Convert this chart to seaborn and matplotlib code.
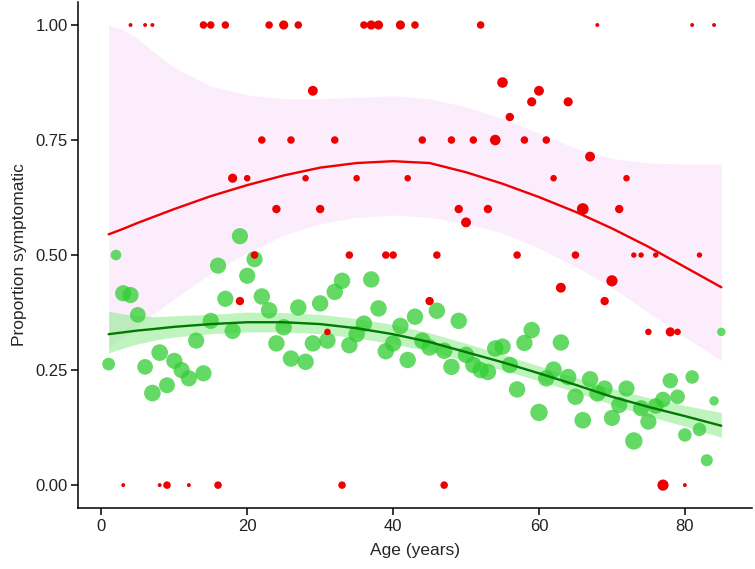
import numpy as np
import pandas as pd
import matplotlib
matplotlib.use("Agg")
import matplotlib.pyplot as plt
import seaborn as sns

# green: proportion symptomatic per year of age (all tested), n = people in that age group
green_age = list(range(1, 86))
green_prop = [0.263, 0.500, 0.417, 0.413, 0.370, 0.257, 0.200, 0.288, 0.217, 0.270,
              0.250, 0.232, 0.314, 0.243, 0.357, 0.477, 0.405, 0.335, 0.541, 0.455,
              0.491, 0.410, 0.380, 0.308, 0.343, 0.275, 0.386, 0.268, 0.308, 0.395,
              0.314, 0.420, 0.444, 0.304, 0.328, 0.351, 0.447, 0.384, 0.291, 0.308,
              0.346, 0.272, 0.366, 0.314, 0.299, 0.379, 0.292, 0.257, 0.357, 0.283,
              0.261, 0.250, 0.246, 0.297, 0.301, 0.261, 0.208, 0.309, 0.337, 0.158,
              0.232, 0.251, 0.310, 0.235, 0.192, 0.141, 0.230, 0.199, 0.210, 0.146,
              0.174, 0.210, 0.096, 0.167, 0.138, 0.172, 0.186, 0.227, 0.192, 0.109,
              0.235, 0.121, 0.054, 0.183, 0.333]
green_n = [40, 28, 64, 64, 60, 60, 68, 68, 62, 64,
           64, 64, 64, 64, 64, 64, 64, 64, 64, 64,
           64, 66, 66, 66, 66, 66, 66, 66, 66, 66,
           66, 66, 66, 66, 66, 66, 66, 66, 66, 66,
           66, 66, 66, 66, 66, 66, 66, 66, 66, 66,
           66, 66, 66, 66, 66, 66, 66, 66, 66, 74,
           66, 66, 66, 66, 66, 68, 66, 64, 64, 64,
           64, 64, 74, 64, 64, 60, 60, 58, 53, 45,
           45, 45, 36, 22, 18]

# red: proportion symptomatic among a second group, n = group size
red_age = [4, 6, 7, 14, 15, 17, 23, 25, 27, 36, 37, 38, 41, 43, 52, 68, 81, 84,
           29, 55, 60, 59, 64, 56,
           22, 26, 32, 44, 48, 51, 54, 58, 61, 67,
           18, 20, 28, 35, 42, 62, 72,
           24, 30, 49, 53, 66, 71, 50,
           21, 34, 39, 40, 46, 57, 65, 73, 74, 76, 82,
           63, 70, 19, 45, 69,
           31, 75, 78, 79,
           3, 8, 9, 12, 16, 33, 47, 77, 80]
red_prop = [1.0] * 18 + \
           [0.857, 0.875, 0.857, 0.833, 0.833, 0.800] + \
           [0.75] * 9 + [0.714] + \
           [0.667] * 7 + \
           [0.6] * 6 + [0.571] + \
           [0.5] * 11 + \
           [0.429, 0.444, 0.4, 0.4, 0.4] + \
           [0.333] * 4 + \
           [0.0] * 9
red_n = [1, 1, 1, 4, 4, 4, 4, 6, 4, 4, 6, 6, 6, 4, 4, 1, 1, 1,
         7, 8, 7, 6, 6, 5,
         4, 4, 4, 4, 4, 4, 8, 4, 4, 7,
         6, 3, 3, 3, 3, 3, 3,
         5, 5, 5, 5, 10, 5, 7,
         4, 4, 4, 4, 4, 4, 4, 2, 2, 2, 2,
         7, 9, 5, 5, 5,
         3, 3, 6, 3,
         1, 1, 4, 1, 4, 4, 4, 9, 1]

# smoothed fits with confidence bands
fit_age = [1, 3, 5, 7, 10, 15, 20, 25, 30, 35, 40, 45, 50, 55, 60, 65, 70, 75, 80, 85]
red_fit = [0.545, 0.557, 0.570, 0.582, 0.600, 0.628, 0.652, 0.673, 0.690, 0.700,
           0.704, 0.700, 0.680, 0.655, 0.626, 0.594, 0.558, 0.518, 0.474, 0.430]
red_hi = [1.000, 0.990, 0.970, 0.944, 0.908, 0.867, 0.848, 0.840, 0.840, 0.843,
          0.846, 0.840, 0.822, 0.797, 0.765, 0.732, 0.710, 0.700, 0.698, 0.698]
red_lo = [0.300, 0.320, 0.345, 0.370, 0.405, 0.460, 0.505, 0.543, 0.568, 0.582,
          0.587, 0.582, 0.568, 0.548, 0.515, 0.475, 0.430, 0.375, 0.322, 0.270]
green_fit = [0.328, 0.332, 0.336, 0.339, 0.344, 0.350, 0.354, 0.354, 0.350, 0.341,
             0.328, 0.311, 0.289, 0.267, 0.243, 0.218, 0.192, 0.170, 0.150, 0.129]
green_hi = [0.378, 0.372, 0.369, 0.366, 0.368, 0.371, 0.376, 0.375, 0.371, 0.362,
            0.349, 0.331, 0.308, 0.284, 0.259, 0.234, 0.210, 0.190, 0.173, 0.158]
green_lo = [0.287, 0.298, 0.307, 0.314, 0.322, 0.329, 0.333, 0.333, 0.329, 0.320,
            0.307, 0.291, 0.270, 0.250, 0.227, 0.202, 0.175, 0.150, 0.128, 0.104]

green_df = pd.DataFrame({"age": green_age, "prop": green_prop, "n": green_n})
red_df = pd.DataFrame({"age": red_age, "prop": red_prop, "n": red_n})
fit_df = pd.DataFrame({"age": fit_age, "red": red_fit, "red_lo": red_lo, "red_hi": red_hi,
                       "green": green_fit, "green_lo": green_lo, "green_hi": green_hi})

sns.set_style("ticks")
plt.rcParams["font.family"] = ["Liberation Sans", "DejaVu Sans"]

fig = plt.figure(figsize=(7.55, 5.69), dpi=100)
ax = fig.add_axes([0.1033, 0.107, 0.8927, 0.8895])

# bands
ax.fill_between(fit_df["age"], fit_df["red_lo"], fit_df["red_hi"],
                color="#fcedfc", lw=0, zorder=1)
ax.fill_between(fit_df["age"], fit_df["green_lo"], fit_df["green_hi"],
                color="#80ea80", alpha=0.5, lw=0, zorder=2)

sns.scatterplot(data=green_df, x="age", y="prop", size="n", sizes=(33, 170),
                size_norm=(16, 80), color="limegreen", alpha=0.75, linewidth=0,
                legend=False, ax=ax, zorder=3)
sns.lineplot(data=fit_df, x="age", y="green", color="#007a00", lw=1.7, ax=ax, zorder=4)
sns.lineplot(data=fit_df, x="age", y="red", color="#ee0000", lw=1.7, ax=ax, zorder=5)
sns.scatterplot(data=red_df, x="age", y="prop", size="n", sizes=(8, 72),
                size_norm=(1, 10), color="#ee0000", linewidth=0,
                legend=False, ax=ax, zorder=6)

ax.set_xlim(-3.2, 89.2)
ax.set_ylim(-0.05, 1.05)
ax.set_xticks([0, 20, 40, 60, 80])
ax.set_yticks([0, 0.25, 0.5, 0.75, 1.0])
ax.set_yticklabels(["0.00", "0.25", "0.50", "0.75", "1.00"])
ax.set_xlabel("Age (years)", fontsize=12.5, labelpad=7)
ax.set_ylabel("Proportion symptomatic", fontsize=12.5, labelpad=6)
ax.tick_params(labelsize=12, length=5, width=1.1, pad=2.5,
               color="black", labelcolor="#222222")
sns.despine(ax=ax)
for s in ["left", "bottom"]:
    ax.spines[s].set_color("black")
    ax.spines[s].set_linewidth(1.1)

fig.savefig("out.png", dpi=100)
